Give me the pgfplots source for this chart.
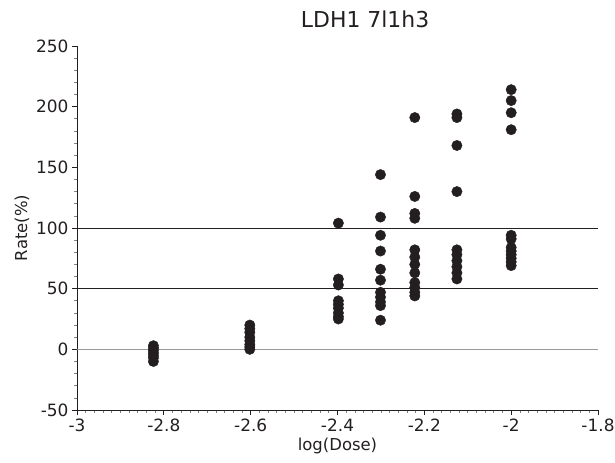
\documentclass[border=0pt]{standalone}
\usepackage{pgfplots}
\pgfplotsset{compat=1.18}
\usepackage{fontspec}
\setmainfont{DejaVu Sans}
\definecolor{dotc}{HTML}{231F20}
\definecolor{txt}{HTML}{231F20}

\begin{document}
\begin{tikzpicture}[x=1bp,y=1bp]
\useasboundingbox (0,0) rectangle (615,463);
\begin{axis}[
    at={(77bp,53bp)}, anchor=south west,
    scale only axis, width=521bp, height=364bp,
    xmin=-3, xmax=-1.8, ymin=-50, ymax=250,
    axis x line*=bottom, axis y line*=left,
    axis line style={txt, line width=0.8bp},
    xtick={-3,-2.8,-2.6,-2.4,-2.2,-2,-1.8},
    ytick={-50,0,50,100,150,200,250},
    minor x tick num=9, minor y tick num=4,
    tick align=outside,
    major tick length=5bp, minor tick length=3bp,
    tick style={txt, line width=0.8bp},
    minor tick style={gray, line width=0.7bp},
    /pgf/number format/assume math mode=true,
    ticklabel style={font=\fontsize{17}{19}\selectfont, text=txt},
    xlabel={log(Dose)}, ylabel={Rate(\%)},
    label style={font=\fontsize{16.5}{18}\selectfont, text=txt},
    title={LDH1 7l1h3},
    title style={font=\fontsize{22}{24}\selectfont, text=txt, at={(0.553,1)}, anchor=base, yshift=13bp},
    clip=false,
]
\addplot[gray!80, line width=1.2bp] coordinates {(-3,0) (-1.8,0)};
\addplot[txt, line width=0.8bp] coordinates {(-3,50) (-1.8,50)};
\addplot[txt, line width=0.8bp] coordinates {(-3,100) (-1.8,100)};
\addplot[only marks, mark=*, mark size=5.2bp, mark options={fill=dotc, draw=dotc}] coordinates {
(-2.824,3) (-2.824,1) (-2.824,-1) (-2.824,-3) (-2.824,-5) (-2.824,-7) (-2.824,-10)
(-2.602,20) (-2.602,17) (-2.602,14) (-2.602,10) (-2.602,7) (-2.602,4) (-2.602,2) (-2.602,0)
(-2.398,104) (-2.398,58) (-2.398,53) (-2.398,40) (-2.398,37) (-2.398,34) (-2.398,30) (-2.398,27) (-2.398,25)
(-2.301,144) (-2.301,109) (-2.301,94) (-2.301,81) (-2.301,66) (-2.301,57) (-2.301,47) (-2.301,43) (-2.301,39) (-2.301,36) (-2.301,24)
(-2.222,191) (-2.222,126) (-2.222,112) (-2.222,108) (-2.222,82) (-2.222,76) (-2.222,70) (-2.222,63) (-2.222,55) (-2.222,51) (-2.222,47) (-2.222,44)
(-2.125,194) (-2.125,191) (-2.125,168) (-2.125,130) (-2.125,82) (-2.125,78) (-2.125,73) (-2.125,68) (-2.125,63) (-2.125,58)
(-2,214) (-2,205) (-2,195) (-2,181) (-2,94) (-2,91) (-2,84) (-2,81) (-2,78) (-2,75) (-2,72) (-2,69)
};
\end{axis}
\end{tikzpicture}
\end{document}
